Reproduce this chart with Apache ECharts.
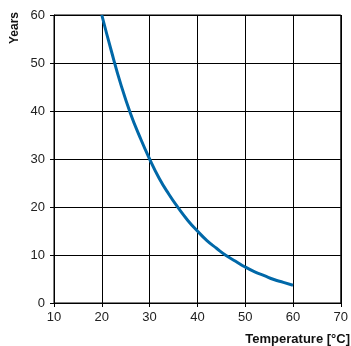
<!DOCTYPE html>
<html><head><meta charset="utf-8">
<script src="https://cdn.jsdelivr.net/npm/echarts@6/dist/echarts.min.js"></script>
<style>html,body{margin:0;padding:0;background:#fff}#c{width:351px;height:346px}</style>
</head><body><div id="c"></div>
<script>
const temperatures = [20, 22, 24, 26, 28, 30, 32, 34, 36, 38, 40, 42, 44, 46, 48, 50, 52, 54, 56, 58, 60];
const years =        [60, 52.5, 45.5, 39.5, 34.5, 30, 26, 22.7, 19.8, 17.2, 15, 13, 11.4, 9.9, 8.7, 7.5, 6.5, 5.7, 4.9, 4.3, 3.7];
const xTicks = [10, 20, 30, 40, 50, 60, 70];
const yTicks = [0, 10, 20, 30, 40, 50, 60];
const xTitle = 'Temperature [°C]';
const yTitle = 'Years';

const font = 'Liberation Sans, Arial, Helvetica, sans-serif';
const chart = echarts.init(document.getElementById('c'), null, {renderer: 'canvas'});
chart.setOption({
  animation: false,
  backgroundColor: '#fff',
  grid: {left: 54, right: 8, top: 15, bottom: 43, containLabel: false,
         show: true, borderColor: '#000', borderWidth: 1},
  xAxis: {
    type: 'value', min: xTicks[0], max: xTicks[xTicks.length - 1], interval: 10,
    axisLine: {show: true, lineStyle: {color: '#000', width: 1}},
    axisTick: {show: true, length: 4, lineStyle: {color: '#000'}},
    axisLabel: {color: '#222', fontSize: 13, fontFamily: font, margin: 8},
    splitLine: {show: true, lineStyle: {color: '#000', width: 1}}
  },
  yAxis: {
    type: 'value', min: yTicks[0], max: yTicks[yTicks.length - 1], interval: 10,
    axisLine: {show: true, lineStyle: {color: '#000', width: 1}},
    axisTick: {show: true, length: 4, lineStyle: {color: '#000'}},
    axisLabel: {color: '#222', fontSize: 13, fontFamily: font, margin: 9},
    splitLine: {show: true, lineStyle: {color: '#000', width: 1}}
  },
  graphic: [
    {type: 'text', x: 15, y: 28, rotation: Math.PI / 2,
     style: {text: yTitle, font: 'bold 12px ' + font, fill: '#111', align: 'center', verticalAlign: 'middle'}},
    {type: 'text', x: 350, y: 339,
     style: {text: xTitle, font: 'bold 13px ' + font, fill: '#111', align: 'right', verticalAlign: 'middle'}}
  ],
  series: [{
    type: 'line', smooth: true, showSymbol: false,
    data: temperatures.map((t, i) => [t, years[i]]),
    lineStyle: {color: '#0068a8', width: 3}
  }]
});
</script></body></html>
